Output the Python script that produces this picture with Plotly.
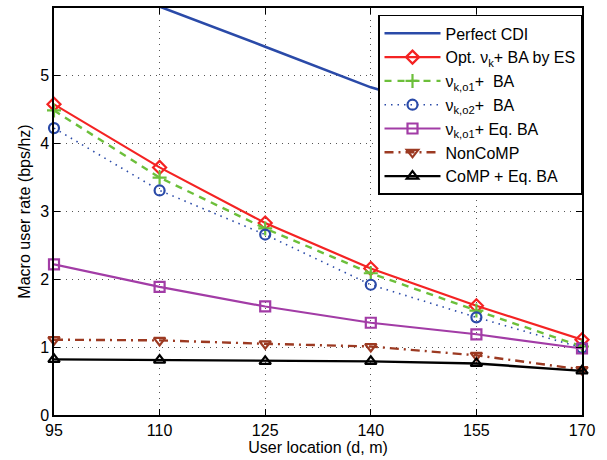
import plotly.graph_objects as go

# User locations (m)
user_location = [95, 110, 125, 140, 155, 170]

# Macro user rate (bps/Hz) for each scheme
perfect_cdi = [6.65, 6.02, 5.43, 4.83, 4.37, 3.96]
opt_es = [4.58, 3.65, 2.83, 2.16, 1.61, 1.11]
nu_o1_ba = [4.49, 3.50, 2.75, 2.09, 1.54, 1.01]
nu_o2_ba = [4.23, 3.31, 2.66, 1.92, 1.44, 0.99]
nu_o1_eq = [2.22, 1.89, 1.60, 1.36, 1.19, 0.98]
noncomp = [1.11, 1.10, 1.05, 1.01, 0.88, 0.67]
comp_eq = [0.82, 0.81, 0.79, 0.79, 0.76, 0.65]

x_ticks = [95, 110, 125, 140, 155, 170]
y_ticks = [0, 1, 2, 3, 4, 5]

NB = "\u00a0"

series = [
    dict(name="Perfect CDI", y=perfect_cdi, color="#2a4aa8", dash="solid",
         symbol=None, width=2.6),
    dict(name="Opt. ν<sub>k</sub>+ BA by ES", y=opt_es, color="#f42323",
         dash="solid", symbol="diamond-open", width=2.2),
    dict(name="ν<sub>k,o1</sub>+" + NB + NB + "BA", y=nu_o1_ba, color="#6cbf3a",
         dash="7px,6px", symbol="cross-thin-open", width=2.4),
    dict(name="ν<sub>k,o2</sub>+" + NB + NB + "BA", y=nu_o2_ba, color="#2a4aa8",
         dash="1.5px,5px", symbol="circle-open", width=1.6),
    dict(name="ν<sub>k,o1</sub>+ Eq. BA", y=nu_o1_eq, color="#a23ca6",
         dash="solid", symbol="square-open", width=2.2),
    dict(name="NonCoMP", y=noncomp, color="#9c3a22", dash="9px,5px,2px,5px",
         symbol="triangle-down-open", width=2.4),
    dict(name="CoMP + Eq. BA", y=comp_eq, color="#000000", dash="solid",
         symbol="triangle-up-open", width=2.4),
]

fig = go.Figure()
for s in series:
    if s["symbol"] is None:
        fig.add_trace(go.Scatter(
            x=user_location, y=s["y"], name=s["name"], mode="lines",
            line=dict(color=s["color"], width=s["width"], dash=s["dash"]),
        ))
    else:
        fig.add_trace(go.Scatter(
            x=user_location, y=s["y"], name=s["name"], mode="lines+markers",
            line=dict(color=s["color"], width=s["width"], dash=s["dash"]),
            marker=dict(symbol=s["symbol"], size=10, color=s["color"],
                        line=dict(color=s["color"], width=2.2)),
            cliponaxis=False,
        ))

axis_common = dict(
    showline=True, linecolor="black", linewidth=1.5, mirror="ticks",
    ticks="inside", ticklen=6, tickcolor="black", tickwidth=1,
    showgrid=True, gridcolor="#555555", gridwidth=1, griddash="1px,5px",
    zeroline=False, tickfont=dict(size=16, color="black"),
)

fig.update_xaxes(
    range=[95, 170], tickvals=x_ticks, ticktext=[str(v) for v in x_ticks],
    title=dict(text="User location (d, m)", font=dict(size=16, color="black"),
               standoff=2),
    **axis_common,
)
fig.update_yaxes(
    range=[0, 6], tickvals=y_ticks, ticktext=[str(v) for v in y_ticks],
    title=dict(text="Macro user rate (bps/hz)", font=dict(size=16, color="black"),
               standoff=6),
    **axis_common,
)

fig.update_layout(
    width=607, height=460,
    margin=dict(l=54, r=25, t=6, b=45),
    paper_bgcolor="white", plot_bgcolor="white",
    font=dict(family="Liberation Sans, Arial, sans-serif", color="black"),
    legend=dict(
        x=1, xanchor="right", y=0.983, yanchor="top",
        bgcolor="white", bordercolor="black", borderwidth=1.5,
        font=dict(size=16, color="black"), tracegroupgap=0,
        itemwidth=56,
    ),
    showlegend=True,
)

fig.write_html("out.html")
